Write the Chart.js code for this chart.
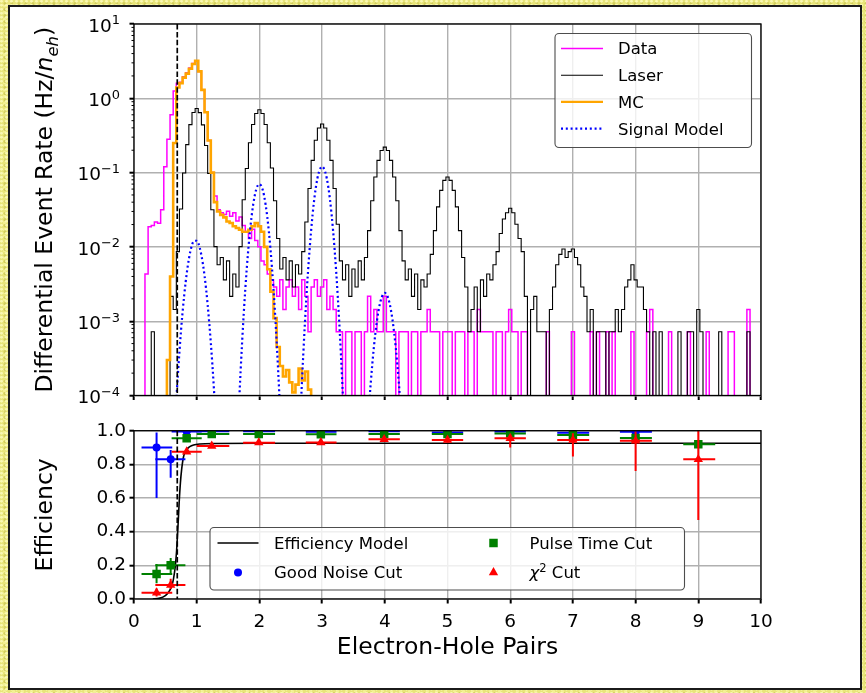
<!DOCTYPE html>
<html>
<head>
<meta charset="utf-8">
<title>Electron-hole pair spectrum</title>
<script src="https://cdn.jsdelivr.net/npm/chart.js@4.4.1/dist/chart.umd.min.js"></script>
<style>
  html, body { margin: 0; padding: 0; }
  body {
    width: 866px; height: 693px; position: relative; overflow: hidden;
    background-color: #e8e57b;
    background-image:
      radial-gradient(circle at 30% 30%, rgba(255, 255, 195, 0.75) 0 1px, transparent 1.7px),
      radial-gradient(circle at 70% 60%, rgba(185, 178, 55, 0.45) 0 1px, transparent 1.8px),
      radial-gradient(circle at 50% 80%, rgba(250, 248, 165, 0.6) 0 1.2px, transparent 2px);
    background-size: 5px 4px, 7px 6px, 9px 7px;
  }
  #panel { position: absolute; left: 8px; top: 5px; width: 850px; height: 681px; border: 2px solid #1b1b1b; background: #fff; }
  canvas { position: absolute; left: 0; }
</style>
</head>
<body>
<div id="panel"></div>
<canvas id="rate" width="866" height="414" style="top:0"></canvas>
<canvas id="eff" width="866" height="279" style="top:414px"></canvas>
<script>
// Fonts
const FONT = '"DejaVu Sans", sans-serif';
const TICK = 18.5, TITLE = 23.5, LEG = 16.5;
const GRID = '#b0b0b0';

// Spectra: one bin every 0.05 n_eh, centred on 0, 0.05, ... 10
const binWidth = 0.05;
const ratePerCount = 7.2e-4; // Hz/n_eh of a single event in one bin

const dataCounts = [
  0, 0, 0, 0, 6, 26, 27, 30, 29, 44, 167, 389, 833, 1736, 2222, 2292, 2708, 3056, 3542, 4097,
  4375, 3194, 1806, 903, 375, 139, 67, 44, 40, 38, 42, 36, 40, 31, 35, 27, 22, 18, 24, 17,
  14, 9, 8, 6, 5, 4, 3, 5, 2, 4, 5, 3, 4, 2, 5, 3, 1, 4, 5, 3,
  4, 5, 2, 3, 2, 1, 1, 0, 1, 1, 0, 1, 1, 0, 1, 3, 1, 2, 1, 1,
  3, 1, 1, 1, 0, 1, 1, 1, 0, 1, 1, 0, 1, 1, 2, 1, 1, 1, 0, 1,
  1, 1, 0, 1, 1, 1, 0, 1, 1, 0, 2, 1, 1, 1, 1, 0, 1, 1, 0, 1,
  2, 1, 1, 0, 1, 1, 0, 0, 0, 0, 0, 0, 1, 0, 0, 0, 0, 0, 0, 0,
  1, 0, 0, 0, 0, 0, 1, 0, 1, 0, 0, 1, 0, 1, 0, 0, 0, 0, 0, 1,
  0, 0, 0, 0, 1, 2, 0, 0, 0, 0, 0, 1, 0, 0, 0, 0, 0, 1, 0, 0,
  0, 0, 0, 1, 0, 0, 0, 0, 0, 0, 1, 1, 0, 0, 0, 0, 2, 0, 0, 0,
  0
];

const laserCounts = [
  0, 0, 0, 0, 0, 0, 1, 0, 0, 0, 0, 0, 3, 2, 12, 45, 137, 330, 615, 895,
  1014, 890, 610, 322, 135, 44, 14, 8, 10, 5, 9, 3, 6, 4, 14, 60, 158, 350, 617, 868,
  972, 868, 617, 350, 160, 58, 18, 7, 10, 5, 9, 4, 8, 6, 12, 30, 85, 203, 379, 552,
  625, 552, 379, 203, 85, 28, 9, 5, 8, 3, 7, 4, 9, 5, 10, 23, 58, 121, 203, 276,
  306, 276, 203, 121, 58, 23, 9, 5, 7, 3, 6, 2, 5, 4, 6, 11, 23, 48, 80, 109,
  121, 109, 80, 48, 23, 10, 4, 1, 2, 4, 1, 5, 3, 6, 5, 8, 12, 21, 33, 40,
  46, 40, 28, 18, 12, 3, 0, 2, 3, 1, 1, 1, 0, 2, 4, 8, 11, 13, 10, 12,
  13, 10, 8, 4, 3, 1, 2, 0, 1, 1, 1, 0, 1, 1, 2, 1, 2, 4, 5, 8,
  5, 4, 4, 2, 1, 0, 1, 0, 1, 0, 0, 0, 0, 0, 1, 0, 0, 1, 1, 0,
  2, 1, 0, 0, 0, 0, 0, 1, 0, 0, 0, 0, 0, 0, 0, 0, 1, 0, 0, 0,
  0
];

// MC prediction (Hz/n_eh), bins from 0.50
const mcStart = 0.5;
const mcRate = [
  0, 3e-4, 0.004, 0.25, 1.4, 1.6, 1.9, 2.15, 2.5, 2.9,
  3.2, 2.3, 1.3, 0.65, 0.27, 0.1, 0.04, 0.03, 0.027, 0.025,
  0.022, 0.021, 0.019, 0.018, 0.017, 0.016, 0.016, 0.017, 0.019, 0.021,
  0.019, 0.016, 0.01, 0.005, 0.0025, 0.0011, 4.5e-4, 2.5e-4, 1.8e-4, 2.2e-4,
  1.5e-4, 1.1e-4, 1.4e-4, 2.3e-4, 1.6e-4, 2.1e-4, 1.2e-4, 0
];

// Signal model (Hz/n_eh), sampled every 0.05 from 0.60
const signalStart = 0.6;
const signalRate = [
  5.7e-6, 3.8e-5, 1.9e-4, 7.5e-4, 2.2e-3, 5.0e-3, 8.8e-3, 1.18e-2, 1.21e-2, 9.6e-3,
  5.8e-3, 2.7e-3, 9.5e-4, 2.6e-4, 5.3e-5, 8.5e-6, null, null, null, null,
  2.3e-6, 2.6e-5, 2.1e-4, 1.25e-3, 5.3e-3, 1.64e-2, 3.67e-2, 5.96e-2, 7.0e-2, 5.96e-2,
  3.67e-2, 1.64e-2, 5.3e-3, 1.25e-3, 2.1e-4, 2.6e-5, 2.3e-6, null, null, null,
  4e-6, 4.4e-5, 3.6e-4, 2.14e-3, 9.1e-3, 2.81e-2, 6.3e-2, 0.102, 0.12, 0.102,
  6.3e-2, 2.81e-2, 9.1e-3, 2.14e-3, 3.6e-4, 4.4e-5, 4e-6, null, null, null,
  null, 2.7e-6, 1.6e-5, 7.5e-5, 2.6e-4, 6.9e-4, 1.38e-3, 2.09e-3, 2.4e-3, 2.09e-3,
  1.38e-3, 6.9e-4, 2.6e-4, 7.5e-5, 1.6e-5, 2.7e-6
];

const threshold = 0.69;
const pairTicks = [0, 1, 2, 3, 4, 5, 6, 7, 8, 9, 10];
const rateDecades = [-4, -3, -2, -1, 0, 1];
const effTicks = [0, 0.2, 0.4, 0.6, 0.8, 1.0];

// Efficiency per bin
const effX  = [0.36, 0.585, 0.84, 1.24, 1.99, 2.98, 3.99, 5.0, 6.0, 7.0, 8.0, 9.0];
const binLo = [0.12, 0.34, 0.60, 1.00, 1.74, 2.74, 3.74, 4.75, 5.75, 6.75, 7.75, 8.76];
const binHi = [0.61, 0.82, 1.08, 1.52, 2.25, 3.23, 4.24, 5.25, 6.25, 7.26, 8.26, 9.27];

const noiseEff = [0.90, 0.83, 0.995, 0.996, 0.997, 0.994, 0.996, 0.99, 0.995, 0.988, 0.994, null];
const noiseLo  = [0.60, 0.72, 0.99, 0.99, 0.99, 0.985, 0.99, 0.98, 0.985, 0.975, 0.985, null];
const noiseHi  = [0.99, 0.885, 1.0, 1.0, 1.0, 1.0, 1.0, 1.0, 1.0, 1.0, 1.0, null];

const pulseEff = [0.149, 0.200, 0.955, 0.980, 0.980, 0.979, 0.980, 0.980, 0.984, 0.974, 0.956, 0.919];
const pulseLo  = [0.093, 0.154, 0.945, 0.972, 0.973, 0.971, 0.972, 0.971, 0.975, 0.962, 0.944, 0.912];
const pulseHi  = [0.208, 0.244, 0.964, 0.987, 0.986, 0.986, 0.987, 0.988, 0.992, 0.985, 0.967, 0.926];

const chi2Eff = [0.037, 0.083, 0.875, 0.909, 0.929, 0.930, 0.949, 0.945, 0.955, 0.945, 0.940, 0.830];
const chi2Lo  = [0.015, 0.060, 0.862, 0.899, 0.920, 0.920, 0.940, 0.930, 0.900, 0.846, 0.760, 0.470];
const chi2Hi  = [0.062, 0.120, 0.888, 0.919, 0.938, 0.940, 0.958, 0.958, 0.970, 0.985, 0.995, 1.000];

const modelX   = [0.30, 0.40, 0.50, 0.55, 0.60, 0.63, 0.66, 0.68, 0.70, 0.72, 0.74, 0.76, 0.79, 0.83, 0.89, 0.95, 1.05, 1.30, 2.00, 10.0];
const modelEff = [0.000, 0.004, 0.020, 0.040, 0.075, 0.120, 0.200, 0.290, 0.420, 0.570, 0.690, 0.770, 0.845, 0.885, 0.905, 0.915, 0.921, 0.924, 0.925, 0.925];

Chart.defaults.font.family = FONT;
Chart.defaults.color = '#000';

// empty bins drop below the axis, as on a log plot
const binned = (start, values, scale) => values.map((v, i) => ({
  x: +(start + i * binWidth).toFixed(2),
  y: v === null ? null : (v > 0 ? v * scale : 1e-7)
}));
const pairs = (xs, ys) => xs.map((x, i) => ({ x, y: ys[i] }));

function drawRich(ctx, parts, x, y, align) {
  let w = 0;
  parts.forEach(p => { ctx.font = p.font; p.w = ctx.measureText(p.text).width; w += p.w; });
  let cx = align === 'center' ? x - w / 2 : x;
  ctx.textAlign = 'left';
  ctx.textBaseline = 'alphabetic';
  parts.forEach(p => { ctx.font = p.font; ctx.fillText(p.text, cx, y + (p.dy || 0)); cx += p.w; });
}

function legendBox(ctx, x, y, w, h) {
  ctx.save();
  ctx.beginPath();
  ctx.roundRect(x, y, w, h, 4);
  ctx.fillStyle = 'rgba(255,255,255,0.8)';
  ctx.fill();
  ctx.strokeStyle = '#4d4d4d';
  ctx.lineWidth = 1.1;
  ctx.stroke();
  ctx.restore();
}

function drawThresholdAndFrame(chart) {
  const { ctx, chartArea: a, scales: { x } } = chart;
  ctx.save();
  ctx.beginPath();
  ctx.rect(a.left, a.top, a.width, a.height);
  ctx.clip();
  ctx.strokeStyle = '#000';
  ctx.lineWidth = 1.7;
  ctx.setLineDash([5.5, 2.4]);
  const tx = x.getPixelForValue(threshold);
  ctx.beginPath();
  ctx.moveTo(tx, a.top);
  ctx.lineTo(tx, a.bottom);
  ctx.stroke();
  ctx.restore();
  ctx.save();
  ctx.strokeStyle = '#000';
  ctx.lineWidth = 1.3;
  ctx.strokeRect(a.left, a.top, a.width, a.height);
  ctx.restore();
}

function yTitle(ctx, a, parts) {
  ctx.save();
  ctx.translate(44, (a.top + a.bottom) / 2);
  ctx.rotate(-Math.PI / 2);
  ctx.fillStyle = '#000';
  drawRich(ctx, parts, 0, TITLE * 0.36, 'center');
  ctx.restore();
}

const rateDecor = {
  id: 'rateDecor',
  afterDatasetsDraw(chart) {
    const { ctx, chartArea: a, scales: { y } } = chart;
    drawThresholdAndFrame(chart);

    // minor ticks and 10^k labels
    ctx.save();
    ctx.strokeStyle = '#000';
    ctx.lineWidth = 1;
    for (let k = -4; k < 1; k++) {
      for (let m = 2; m < 10; m++) {
        const py = y.getPixelForValue(m * Math.pow(10, k));
        ctx.beginPath();
        ctx.moveTo(a.left, py);
        ctx.lineTo(a.left - 2.5, py);
        ctx.stroke();
      }
    }
    ctx.fillStyle = '#000';
    const expFont = `${TICK * 0.7}px ${FONT}`, baseFont = `${TICK}px ${FONT}`;
    rateDecades.forEach(k => {
      const py = y.getPixelForValue(Math.pow(10, k));
      const exp = k < 0 ? '\u2212' + (-k) : String(k);
      ctx.font = expFont;
      const we = ctx.measureText(exp).width;
      ctx.font = baseFont;
      const wb = ctx.measureText('10').width;
      const right = a.left - 14;
      ctx.textAlign = 'left';
      ctx.textBaseline = 'alphabetic';
      ctx.fillText('10', right - we - wb, py + 7.6);
      ctx.font = expFont;
      ctx.fillText(exp, right - we, py + 0.4);
    });
    ctx.restore();

    yTitle(ctx, a, [
      { text: 'Differential Event Rate (Hz/', font: `${TITLE}px ${FONT}` },
      { text: 'n', font: `italic ${TITLE}px ${FONT}` },
      { text: 'eh', font: `italic ${TITLE * 0.7}px ${FONT}`, dy: TITLE * 0.22 },
      { text: ')', font: `${TITLE}px ${FONT}` }
    ]);

    // legend
    legendBox(ctx, 555, 33.5, 196.5, 114);
    chart.data.datasets.forEach((ds, i) => {
      const yy = 48.5 + i * 26.7;
      ctx.save();
      ctx.strokeStyle = ds.borderColor;
      ctx.lineWidth = Math.min(ds.borderWidth, 2.2);
      ctx.setLineDash(ds.borderDash || []);
      ctx.beginPath();
      ctx.moveTo(561, yy);
      ctx.lineTo(603, yy);
      ctx.stroke();
      ctx.restore();
      ctx.fillStyle = '#000';
      ctx.font = `${LEG}px ${FONT}`;
      ctx.textAlign = 'left';
      ctx.textBaseline = 'alphabetic';
      ctx.fillText(ds.label, 618, yy + LEG * 0.36);
    });
  }
};

function marker(ctx, style, color, x, y) {
  ctx.save();
  ctx.fillStyle = color;
  ctx.beginPath();
  if (style === 'circle') {
    ctx.arc(x, y, 4, 0, Math.PI * 2);
  } else if (style === 'rect') {
    ctx.rect(x - 4.25, y - 4.25, 8.5, 8.5);
  } else {
    const r = 5.4;
    ctx.moveTo(x, y - r);
    ctx.lineTo(x + r * 0.866, y + r / 2);
    ctx.lineTo(x - r * 0.866, y + r / 2);
    ctx.closePath();
  }
  ctx.fill();
  ctx.restore();
}

const effDecor = {
  id: 'effDecor',
  beforeDatasetDraw(chart, args) {
    const ds = chart.data.datasets[args.index];
    const eb = ds.errorBars;
    if (!eb) return;
    const { ctx, chartArea: a, scales: { x, y } } = chart;
    ctx.save();
    ctx.beginPath();
    ctx.rect(a.left, a.top, a.width, a.height);
    ctx.clip();
    ctx.strokeStyle = ds.backgroundColor;
    ctx.lineWidth = 2;
    ds.data.forEach((p, i) => {
      if (p.y === null) return;
      const px = x.getPixelForValue(p.x), py = y.getPixelForValue(p.y);
      ctx.beginPath();
      ctx.moveTo(x.getPixelForValue(binLo[i]), py);
      ctx.lineTo(x.getPixelForValue(binHi[i]), py);
      ctx.moveTo(px, y.getPixelForValue(eb.lo[i]));
      ctx.lineTo(px, y.getPixelForValue(eb.hi[i]));
      ctx.stroke();
    });
    ctx.restore();
  },
  afterDatasetsDraw(chart) {
    const { ctx, chartArea: a } = chart;
    drawThresholdAndFrame(chart);

    yTitle(ctx, a, [{ text: 'Efficiency', font: `${TITLE}px ${FONT}` }]);
    ctx.fillStyle = '#000';
    drawRich(ctx, [{ text: 'Electron-Hole Pairs', font: `${TITLE}px ${FONT}` }],
      (a.left + a.right) / 2, 232 + TITLE * 0.36, 'center');

    // legend, two columns
    const ds = chart.data.datasets;
    legendBox(ctx, 210, 113.5, 474.5, 62.5);
    const rowY = [129, 158.5];
    ctx.save();
    ctx.strokeStyle = ds[0].borderColor;
    ctx.lineWidth = ds[0].borderWidth;
    ctx.beginPath();
    ctx.moveTo(217.5, rowY[0]);
    ctx.lineTo(258.5, rowY[0]);
    ctx.stroke();
    ctx.restore();
    marker(ctx, 'circle', ds[1].backgroundColor, 238, rowY[1]);
    marker(ctx, 'rect', ds[2].backgroundColor, 493.5, rowY[0]);
    marker(ctx, 'triangle', ds[3].backgroundColor, 493.5, rowY[1]);
    ctx.fillStyle = '#000';
    const f = `${LEG}px ${FONT}`;
    drawRich(ctx, [{ text: ds[0].label, font: f }], 274, rowY[0] + LEG * 0.36, 'left');
    drawRich(ctx, [{ text: ds[1].label, font: f }], 274, rowY[1] + LEG * 0.36, 'left');
    drawRich(ctx, [{ text: ds[2].label, font: f }], 529.5, rowY[0] + LEG * 0.36, 'left');
    drawRich(ctx, [
      { text: '\u03c7', font: `italic ${LEG}px ${FONT}` },
      { text: '2', font: `${LEG * 0.7}px ${FONT}`, dy: -LEG * 0.42 },
      { text: ' Cut', font: f }
    ], 529.5, rowY[1] + LEG * 0.36, 'left');
  }
};

const gridOpts = { color: GRID, lineWidth: 1.4, tickColor: '#000', tickWidth: 2, tickLength: 4.5 };

new Chart(document.getElementById('rate'), {
  type: 'line',
  data: {
    datasets: [
      { label: 'Data', data: binned(0, dataCounts, ratePerCount), borderColor: '#ff00ff',
        borderWidth: 1.5, stepped: 'middle', pointRadius: 0, order: 4 },
      { label: 'Laser', data: binned(0, laserCounts, ratePerCount), borderColor: '#000000',
        borderWidth: 1.1, stepped: 'middle', pointRadius: 0, order: 3 },
      { label: 'MC', data: binned(mcStart, mcRate, 1), borderColor: '#ffa500',
        borderWidth: 2.6, stepped: 'middle', pointRadius: 0, order: 2 },
      { label: 'Signal Model', data: binned(signalStart, signalRate, 1), borderColor: '#0000ff',
        borderWidth: 2.2, borderDash: [2, 2.8], pointRadius: 0, cubicInterpolationMode: 'monotone',
        spanGaps: false, order: 1 }
    ]
  },
  options: {
    responsive: false, animation: false, events: [],
    layout: { padding: { left: 0, right: 105, top: 24, bottom: 0 } },
    plugins: { legend: { display: false }, tooltip: { enabled: false } },
    scales: {
      x: {
        type: 'linear', min: 0, max: 10,
        afterBuildTicks: s => { s.ticks = pairTicks.map(v => ({ value: v })); },
        afterFit: s => { s.height = 18.5; },
        ticks: { display: false },
        grid: gridOpts,
        border: { display: false }
      },
      y: {
        type: 'logarithmic', min: 1e-4, max: 10,
        afterBuildTicks: s => { s.ticks = rateDecades.map(k => ({ value: Math.pow(10, k) })); },
        afterFit: s => { s.width = 134; },
        ticks: { display: false },
        grid: gridOpts,
        border: { display: false }
      }
    }
  },
  plugins: [rateDecor]
});

new Chart(document.getElementById('eff'), {
  type: 'line',
  data: {
    datasets: [
      { label: 'Efficiency Model', data: pairs(modelX, modelEff), borderColor: '#000000',
        borderWidth: 1.6, pointRadius: 0, cubicInterpolationMode: 'monotone', order: 4 },
      { label: 'Good Noise Cut', data: pairs(effX, noiseEff), showLine: false,
        pointStyle: 'circle', pointRadius: 4, backgroundColor: '#0000ff', pointBackgroundColor: '#0000ff',
        pointBorderWidth: 0, errorBars: { lo: noiseLo, hi: noiseHi }, order: 3 },
      { label: 'Pulse Time Cut', data: pairs(effX, pulseEff), showLine: false,
        pointStyle: 'rect', pointRadius: 6, backgroundColor: '#008000', pointBackgroundColor: '#008000',
        pointBorderWidth: 0, errorBars: { lo: pulseLo, hi: pulseHi }, order: 2 },
      { label: '\u03c7\u00b2 Cut', data: pairs(effX, chi2Eff), showLine: false,
        pointStyle: 'triangle', pointRadius: 5.4, backgroundColor: '#ff0000', pointBackgroundColor: '#ff0000',
        pointBorderWidth: 0, errorBars: { lo: chi2Lo, hi: chi2Hi }, order: 1 }
    ]
  },
  options: {
    responsive: false, animation: false, events: [],
    layout: { padding: { left: 0, right: 105, top: 16.7, bottom: 0 } },
    plugins: { legend: { display: false }, tooltip: { enabled: false } },
    scales: {
      x: {
        type: 'linear', min: 0, max: 10,
        afterBuildTicks: s => { s.ticks = pairTicks.map(v => ({ value: v })); },
        afterFit: s => { s.height = 94; },
        ticks: { font: { size: TICK }, color: '#000', padding: 8, autoSkip: false, maxRotation: 0 },
        grid: gridOpts,
        border: { display: false }
      },
      y: {
        type: 'linear', min: 0, max: 1,
        afterBuildTicks: s => { s.ticks = effTicks.map(v => ({ value: v })); },
        afterFit: s => { s.width = 134; },
        ticks: { font: { size: TICK }, color: '#000', padding: 3.5, callback: v => v.toFixed(1) },
        grid: gridOpts,
        border: { display: false }
      }
    }
  },
  plugins: [effDecor]
});
</script>
</body>
</html>
